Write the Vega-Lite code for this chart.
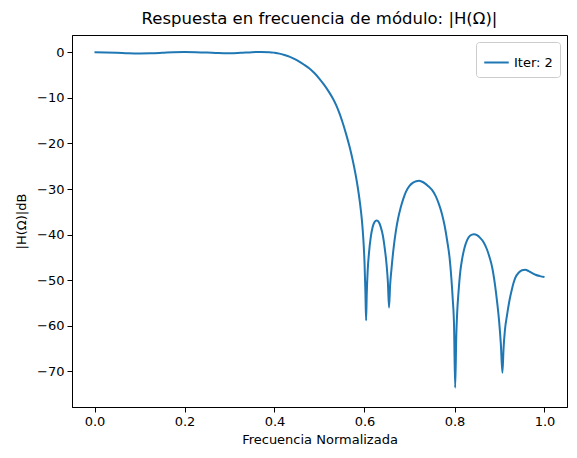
{
  "$schema": "https://vega.github.io/schema/vega-lite/v6.json",
  "width": 495,
  "height": 372,
  "autosize": "none",
  "padding": {"left": 72, "top": 35, "right": 10, "bottom": 51},
  "background": "white",
  "title": {"text": "Respuesta en frecuencia de módulo: |H(Ω)|", "font": "DejaVu Sans", "fontSize": 16.5, "fontWeight": "normal", "color": "black", "offset": 8},
  "config": {
    "view": {"stroke": "black", "strokeWidth": 1},
    "axis": {"labelFont": "DejaVu Sans", "titleFont": "DejaVu Sans", "labelFontSize": 13, "titleFontSize": 13, "titleFontWeight": "normal", "labelColor": "black", "titleColor": "black", "domainColor": "black", "tickColor": "black", "tickSize": 5, "grid": false, "labelPadding": 3}
  },
  "data": {"values": [
    {"f":0.0,"db":0.0},{"f":0.025,"db":-0.03},{"f":0.05,"db":-0.1},{"f":0.075,"db":-0.2},{"f":0.1,"db":-0.25},{"f":0.125,"db":-0.22},{"f":0.15,"db":-0.12},{"f":0.175,"db":0.0},{"f":0.2,"db":0.05},{"f":0.225,"db":0.02},{"f":0.25,"db":-0.06},{"f":0.275,"db":-0.18},{"f":0.3,"db":-0.22},{"f":0.325,"db":-0.12},{"f":0.35,"db":0.02},{"f":0.37,"db":0.06},{"f":0.389,"db":0.03},{"f":0.4,"db":-0.1},{"f":0.411,"db":-0.3},{"f":0.422,"db":-0.6},{"f":0.433,"db":-0.95},{"f":0.444,"db":-1.45},{"f":0.455,"db":-2.05},{"f":0.466,"db":-2.75},{"f":0.477,"db":-3.5},{"f":0.488,"db":-4.5},{"f":0.499,"db":-5.7},{"f":0.51,"db":-7.1},{"f":0.522,"db":-8.85},{"f":0.53,"db":-10.2},{"f":0.537,"db":-11.6},{"f":0.544,"db":-13.3},{"f":0.551,"db":-15.3},{"f":0.559,"db":-17.9},{"f":0.567,"db":-20.8},{"f":0.573,"db":-23.3},{"f":0.58,"db":-26.7},{"f":0.585,"db":-29.6},{"f":0.59,"db":-33.1},{"f":0.594,"db":-36.6},{"f":0.597,"db":-40.3},{"f":0.6,"db":-46},{"f":0.602,"db":-52.5},{"f":0.6035,"db":-58.8},{"f":0.605,"db":-53},{"f":0.607,"db":-48},{"f":0.61,"db":-44},{"f":0.614,"db":-40.5},{"f":0.618,"db":-38.4},{"f":0.622,"db":-37.3},{"f":0.627,"db":-36.9},{"f":0.632,"db":-37.3},{"f":0.636,"db":-38.3},{"f":0.641,"db":-40.3},{"f":0.645,"db":-43},{"f":0.649,"db":-46.5},{"f":0.652,"db":-50.5},{"f":0.6545,"db":-56},{"f":0.657,"db":-51},{"f":0.66,"db":-47.5},{"f":0.664,"db":-43.5},{"f":0.67,"db":-39},{"f":0.675,"db":-36.3},{"f":0.68,"db":-34.2},{"f":0.686,"db":-32.2},{"f":0.692,"db":-30.6},{"f":0.7,"db":-29.3},{"f":0.708,"db":-28.6},{"f":0.715,"db":-28.3},{"f":0.721,"db":-28.2},{"f":0.728,"db":-28.4},{"f":0.735,"db":-28.8},{"f":0.742,"db":-29.4},{"f":0.75,"db":-30.2},{"f":0.758,"db":-31.5},{"f":0.765,"db":-33.2},{"f":0.772,"db":-35.4},{"f":0.778,"db":-38},{"f":0.784,"db":-41.5},{"f":0.789,"db":-45},{"f":0.793,"db":-49.5},{"f":0.796,"db":-54},{"f":0.799,"db":-60},{"f":0.8015,"db":-73.6},{"f":0.804,"db":-62},{"f":0.806,"db":-57},{"f":0.809,"db":-52.5},{"f":0.813,"db":-48},{"f":0.817,"db":-45.3},{"f":0.822,"db":-43},{"f":0.828,"db":-41.2},{"f":0.835,"db":-40.2},{"f":0.843,"db":-39.9},{"f":0.85,"db":-40.1},{"f":0.857,"db":-40.7},{"f":0.865,"db":-41.7},{"f":0.872,"db":-43.2},{"f":0.878,"db":-45},{"f":0.884,"db":-47.3},{"f":0.89,"db":-51},{"f":0.895,"db":-55},{"f":0.899,"db":-58.8},{"f":0.903,"db":-64},{"f":0.9065,"db":-70.3},{"f":0.909,"db":-65},{"f":0.912,"db":-61},{"f":0.917,"db":-57.5},{"f":0.922,"db":-54.5},{"f":0.928,"db":-51.8},{"f":0.935,"db":-49.5},{"f":0.943,"db":-48.3},{"f":0.95,"db":-47.8},{"f":0.957,"db":-47.7},{"f":0.965,"db":-48},{"f":0.972,"db":-48.4},{"f":0.98,"db":-48.8},{"f":0.99,"db":-49.1},{"f":1.0,"db":-49.3}
  ]},
  "transform": [{"calculate": "'Iter: 2'", "as": "serie"}],
  "mark": {"type": "line", "strokeWidth": 2, "clip": true, "interpolate": "monotone"},
  "encoding": {
    "x": {"field": "f", "type": "quantitative", "scale": {"domain": [-0.05, 1.05], "nice": false, "zero": false},
      "axis": {"values": [0, 0.2, 0.4, 0.6, 0.8, 1.0], "format": ".1f", "title": "Frecuencia Normalizada", "titlePadding": 5}},
    "y": {"field": "db", "type": "quantitative", "scale": {"domain": [-77.8, 3.79], "nice": false, "zero": false},
      "axis": {"values": [-70, -60, -50, -40, -30, -20, -10, 0], "title": "|H(Ω)|dB", "titlePadding": 8}},
    "color": {"field": "serie", "type": "nominal", "scale": {"range": ["#1f77b4"]},
      "legend": {"title": null, "orient": "top-right", "offset": 7, "labelFont": "DejaVu Sans", "labelFontSize": 13, "labelColor": "black", "symbolType": "stroke", "symbolSize": 600, "symbolStrokeWidth": 2, "strokeColor": "#cccccc", "fillColor": "white", "padding": 7, "cornerRadius": 3}}
  }
}
